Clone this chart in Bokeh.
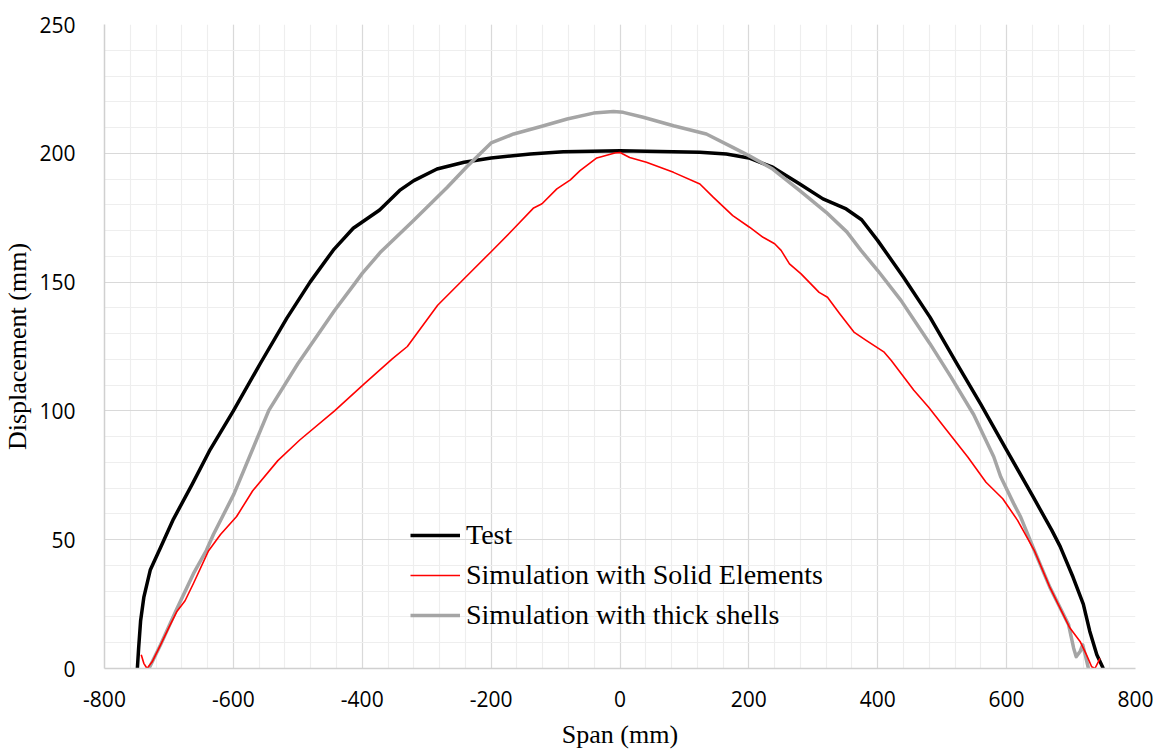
from bokeh.plotting import figure
from bokeh.models import Range1d, SingleIntervalTicker, Legend, LegendItem, CustomJSTickFormatter
from bokeh.embed import file_html
from bokeh.resources import INLINE

# ---------------- data ----------------
test_x = [-749, -747, -744, -739, -729, -713, -693, -664, -636, -600, -558, -517, -481, -445,
          -414, -373, -342, -320, -284, -242, -200, -139, -88, 0, 124, 165, 200, 237, 279, 315,
          351, 375, 400, 440, 481, 523, 560, 600, 641, 670, 683, 703, 719, 729, 740, 750]
test_y = [0, 8, 18.4, 27.6, 38.2, 47, 58, 71.5, 85, 100, 118.5, 136, 150, 162.4,
          170.9, 178, 185.6, 189.4, 193.9, 196.5, 198.2, 199.7, 200.6, 201, 200.4, 199.7, 198.2, 194.6, 188.1, 182.3,
          178.4, 174.2, 166.1, 151.9, 136.4, 118.3, 102.5, 84.8, 66.7, 53.7, 47.4, 35.5, 25, 14.5, 5.3, 0]

solid_x = [-743, -739, -734, -726, -713, -700, -688, -675, -662, -639, -620, -595, -570, -531,
           -497, -443, -397, -353, -330, -283, -242, -200, -165, -134, -121, -98, -77, -62, -36,
           -8, 0, 15, 41, 83, 124, 145, 175, 201, 222, 240, 250, 263, 281, 309, 322, 341, 363,
           382, 410, 421, 456, 479, 507, 540, 568, 594, 617, 643, 667, 698, 714, 724, 732, 737, 745]
solid_y = [5.3, 2, 0, 2.6, 9.2, 16, 22, 26.3, 33, 45.5, 52, 59, 69, 80.7,
           88.7, 100, 110.5, 120.3, 125, 141, 151.3, 161.8, 170.7, 178.8, 180.4, 186.2, 189.7, 193.3, 198.2,
           200.1, 200.3, 198.4, 196.5, 192.6, 188.1, 182.9, 175.8, 171.3, 167.4, 164.9, 162.3, 157.1, 153.2, 146, 144.1, 137.7, 130.6,
           127.4, 122.8, 119.6, 108, 101.4, 92.5, 82, 72.3, 65.9, 57.5, 45.8, 31.6, 15.8, 10.5, 5.3, 0.7, 0, 3.9]

shell_x = [-731, -713, -688, -662, -642, -631, -599, -545, -500, -443, -412, -400, -371, -320,
           -268, -237, -200, -165, -124, -82, -41, -10, 5, 36, 83, 134, 175, 200, 237, 279, 320,
           352, 374, 400, 436, 481, 514, 549, 580, 591, 611, 622, 643, 667, 696, 704, 708, 714,
           718, 722, 727]
shell_y = [0, 9.2, 23, 36.8, 45.8, 52, 67.8, 100.2, 118.3, 139, 149.3, 153.4, 161.8, 174,
           186.8, 195, 204, 207.5, 210.3, 213.3, 215.6, 216.2, 215.9, 214, 210.7, 207.5, 202.3, 199.1, 193.9, 185.5, 177.1,
           169.5, 162.3, 154.5, 142.9, 126.1, 113, 98.5, 82.2, 74.3, 64, 58.7, 45.8, 31.6, 17.1, 7.9, 4.6, 6.6,
           9.2, 5.3, 0]

series_names = ["Test", "Simulation with Solid Elements", "Simulation with thick shells"]
x_label = "Span (mm)"
y_label = "Displacement (mm)"

# ---------------- figure ----------------
p = figure(frame_width=1031, frame_height=644,
           min_border_left=96, min_border_right=18, min_border_top=24, min_border_bottom=67,
           x_range=Range1d(-800, 800), y_range=Range1d(0, 250),
           output_backend="svg", toolbar_location=None)
p.outline_line_color = None
p.background_fill_color = "white"
p.border_fill_color = "white"

p.xaxis.ticker = SingleIntervalTicker(interval=200, num_minor_ticks=5)
p.yaxis.ticker = SingleIntervalTicker(interval=50, num_minor_ticks=5)
fmt = CustomJSTickFormatter(code="return tick.toFixed(0);")

for ax in (p.xaxis, p.yaxis):
    ax.formatter = fmt
    ax.major_tick_line_color = None
    ax.minor_tick_line_color = None
    ax.major_tick_out = 0
    ax.major_tick_in = 0
    ax.axis_line_color = "#d0d0d0"
    ax.axis_line_width = 1.5
    ax.major_label_text_font = "Open Sans"
    ax.major_label_text_font_size = "21px"
    ax.major_label_text_color = "#000000"
    ax.axis_label_text_font = "Liberation Serif"
    ax.axis_label_text_font_size = "26px"
    ax.axis_label_text_font_style = "normal"
    ax.axis_label_text_color = "#000000"

p.xaxis.axis_label = x_label
p.yaxis.axis_label = y_label
p.xaxis.major_label_standoff = 18
p.yaxis.major_label_standoff = 25
p.xaxis.axis_label_standoff = 10
p.yaxis.axis_label_standoff = 4

for g in (p.xgrid, p.ygrid):
    g.grid_line_color = "#d9d9d9"
    g.grid_line_width = 1.2
    g.minor_grid_line_color = "#eeeeee"
    g.minor_grid_line_width = 1.2

r_test = p.line(test_x, test_y, line_color="#000000", line_width=3.5, line_join="round")
r_shell = p.line(shell_x, shell_y, line_color="#a5a5a5", line_width=3.5, line_join="round")
r_solid = p.line(solid_x, solid_y, line_color="#ff0000", line_width=1.6, line_join="round")

legend = Legend(items=[LegendItem(label=series_names[0], renderers=[r_test]),
                       LegendItem(label=series_names[1], renderers=[r_solid]),
                       LegendItem(label=series_names[2], renderers=[r_shell])],
                location=(306, 33))
legend.background_fill_alpha = 0
legend.border_line_color = None
legend.padding = 0
legend.margin = 0
legend.spacing = 0
legend.glyph_width = 50
legend.glyph_height = 40
legend.label_height = 40
legend.label_standoff = 6
legend.label_text_font = "Liberation Serif"
legend.label_text_font_size = "28px"
legend.label_text_color = "#000000"
p.add_layout(legend, "center")

open("out.html", "w").write(file_html(p, INLINE))
